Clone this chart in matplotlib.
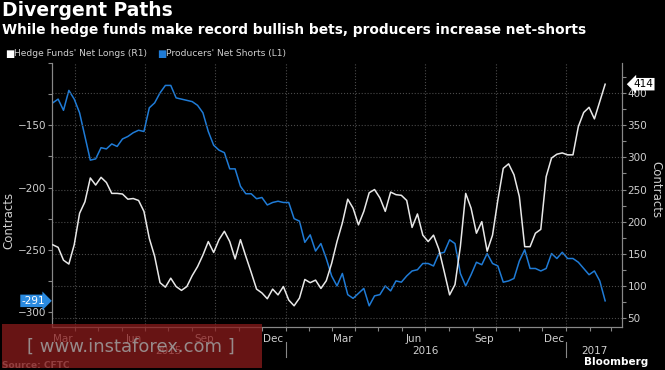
import matplotlib
matplotlib.use("Agg")
import matplotlib.pyplot as plt
import matplotlib.dates as mdates
import matplotlib.transforms as mtransforms
from matplotlib.patches import Rectangle
from matplotlib.ticker import MultipleLocator
import pandas as pd

# weekly CFTC report dates (Tuesdays), Mar 2015 -> Feb 2017
weeks = pd.date_range("2015-03-03", periods=104, freq="7D")

# hedge funds' net longs (right axis, white)
hedge_funds = [164, 160, 140, 134, 164, 213, 231, 268, 257, 269,
               261, 244, 244, 243, 235, 236, 233, 216, 174, 146,
               105, 98, 112, 99, 93, 99, 116, 130, 148, 169,
               152, 172, 185, 169, 142, 172, 146, 121, 95, 89,
               80, 95, 86, 99, 78, 69, 81, 110, 105, 109,
               96, 108, 135, 169, 198, 235, 221, 195, 216, 245,
               250, 237, 216, 246, 242, 241, 233, 191, 212, 179,
               169, 179, 157, 122, 86, 102, 161, 244, 221, 182,
               200, 154, 179, 234, 283, 290, 273, 239, 161, 161,
               182, 188, 270, 299, 305, 307, 304, 304, 348, 370,
               378, 360, 387, 414]

# producers' net shorts (left axis, blue)
producers = [-132, -129, -138, -122, -129, -140, -159, -178, -177, -168,
             -169, -165, -167, -161, -159, -156, -154, -155, -136, -132,
             -124, -118, -118, -128, -129, -130, -131, -134, -140, -155,
             -166, -170, -172, -185, -185, -199, -205, -205, -209, -208,
             -214, -212, -211, -212, -212, -225, -227, -244, -238, -251,
             -245, -257, -271, -279, -269, -286, -289, -285, -281, -295,
             -287, -286, -279, -283, -275, -276, -271, -267, -266, -261,
             -261, -263, -253, -252, -242, -245, -269, -279, -270, -260,
             -262, -253, -261, -263, -276, -275, -273, -259, -250, -265,
             -265, -267, -265, -253, -257, -252, -257, -257, -260, -265,
             -270, -267, -275, -291]

month_labels = ["Mar", "Jun", "Sep", "Dec", "Mar", "Jun", "Sep", "Dec"]
month_dates = pd.to_datetime(["2015-03-16", "2015-06-16", "2015-09-16", "2015-12-16",
                              "2016-03-16", "2016-06-16", "2016-09-16", "2016-12-16"])
year_labels = ["2015", "2016", "2017"]
year_dates = pd.to_datetime(["2015-08-01", "2016-07-01", "2017-02-07"])
year_breaks = pd.to_datetime(["2016-01-01", "2017-01-01"])

BLUE = "#1f7bd6"
WHITE = "#e8e8e8"
GRID = "#4a4a4a"
TXT = "#d0d0d0"

fig = plt.figure(figsize=(6.65, 3.7), dpi=100, facecolor="black")
ax = fig.add_axes([52/665, 1-327/370, 570/665, 264/370], facecolor="black")
ax2 = ax.twinx()

ax.plot(weeks, producers, color=BLUE, lw=1.1, zorder=3)
ax2.plot(weeks, hedge_funds, color=WHITE, lw=1.1, zorder=3)

ax.set_xlim(pd.Timestamp("2015-03-02"), pd.Timestamp("2017-03-15"))
ax.set_ylim(-312, -100)
ax2.set_ylim(36, 447)

# left axis ticks
ax.yaxis.set_minor_locator(MultipleLocator(25))
ax.set_yticks([-150, -200, -250, -300])
ax.tick_params(axis="y", which="both", colors="#888888", labelcolor=TXT,
               labelsize=7.5, length=3, width=0.8, pad=1)
# right axis ticks
ax2.set_yticks([50, 100, 150, 200, 250, 300, 350, 400])
ax2.yaxis.set_minor_locator(MultipleLocator(25))
ax2.tick_params(axis="y", which="both", colors="#888888", labelcolor=TXT,
                labelsize=7.5, length=3, width=0.8, pad=1)
ax2.grid(axis="y", which="major", color=GRID, ls=":", lw=0.8)
ax2.set_axisbelow(True)

# x axis: month labels at mid-month, monthly minor ticks
ax.set_xticks(month_dates)
ax.set_xticklabels(month_labels)
ax.xaxis.set_minor_locator(mdates.MonthLocator())
ax.tick_params(axis="x", which="major", length=0, labelsize=7.5, labelcolor=TXT, pad=5)
ax.tick_params(axis="x", which="minor", length=3, color="#888888", width=0.8)

for q in pd.date_range("2015-04-01", "2017-01-01", freq="QS"):
    ax.axvline(q, color=GRID, ls=":", lw=0.8, zorder=0)

trans = mtransforms.blended_transform_factory(ax.transData, ax.transAxes)
for lbl, d in zip(year_labels, year_dates):
    ax.text(d, -0.092, lbl, transform=trans, ha="center", va="center",
            color=TXT, fontsize=7.5)
for d in year_breaks:
    ax.plot([d, d], [-0.058, -0.115], transform=trans, color="#888888",
            lw=0.8, clip_on=False)

for a in (ax, ax2):
    a.spines["top"].set_visible(False)
    for s in ("left", "right", "bottom"):
        a.spines[s].set_color("#888888")
        a.spines[s].set_linewidth(0.8)

# last value tags
tl = mtransforms.blended_transform_factory(ax.transAxes, ax.transData)
ax.text(-0.012, producers[-1], str(producers[-1]), transform=tl, ha="right", va="center",
        color="white", fontsize=7.5,
        bbox=dict(boxstyle="rarrow,pad=0.12", fc="#2a8ae0", ec="none"))
tr = mtransforms.blended_transform_factory(ax2.transAxes, ax2.transData)
ax2.text(1.02, hedge_funds[-1], str(hedge_funds[-1]), transform=tr, ha="left", va="center",
         color="black", fontsize=7.5,
         bbox=dict(boxstyle="larrow,pad=0.12", fc="white", ec="none"))

# titles
fig.text(0.003, 1-1/370, "Divergent Paths", color="white", fontsize=13.5,
         fontweight="bold", va="top", ha="left")
fig.text(0.003, 1-23/370,
         "While hedge funds make record bullish bets, producers increase net-shorts",
         color="white", fontsize=9.9, fontweight="bold", va="top", ha="left")

# legend
fig.text(5/665, 1-53.5/370, "\u25a0", color="white", fontsize=7, va="center", ha="left")
fig.text(14/665, 1-53.5/370, "Hedge Funds' Net Longs (R1)", color=TXT, fontsize=6.6,
         va="center", ha="left")
fig.text(157/665, 1-53.5/370, "\u25a0", color=BLUE, fontsize=7, va="center", ha="left")
fig.text(166/665, 1-53.5/370, "Producers' Net Shorts (L1)", color=TXT, fontsize=6.6,
         va="center", ha="left")

fig.text(9/665, 1-220/370, "Contracts", color=TXT, fontsize=8.5, rotation=90,
         va="center", ha="center")
fig.text(656/665, 1-190/370, "Contracts", color=TXT, fontsize=8.5, rotation=270,
         va="center", ha="center")

fig.text(2/665, 1-365/370, "Source: CFTC", color="#aaaaaa", fontsize=6.5,
         fontweight="bold", va="center", ha="left")
fig.text(648/665, 1-362/370, "Bloomberg", color="white", fontsize=7.5,
         fontweight="bold", va="center", ha="right")

# watermark overlay
fig.patches.append(Rectangle((2/665, 1-368/370), 260/665, 44/370, transform=fig.transFigure,
                             facecolor="#8a1c1c", alpha=0.75, edgecolor="none", zorder=10))
fig.text(131/665, 1-347/370, "[ www.instaforex.com ]", color="#a0a0a0", fontsize=13,
         va="center", ha="center", alpha=0.85, zorder=11)

fig.savefig("out.png", dpi=100, facecolor="black")
